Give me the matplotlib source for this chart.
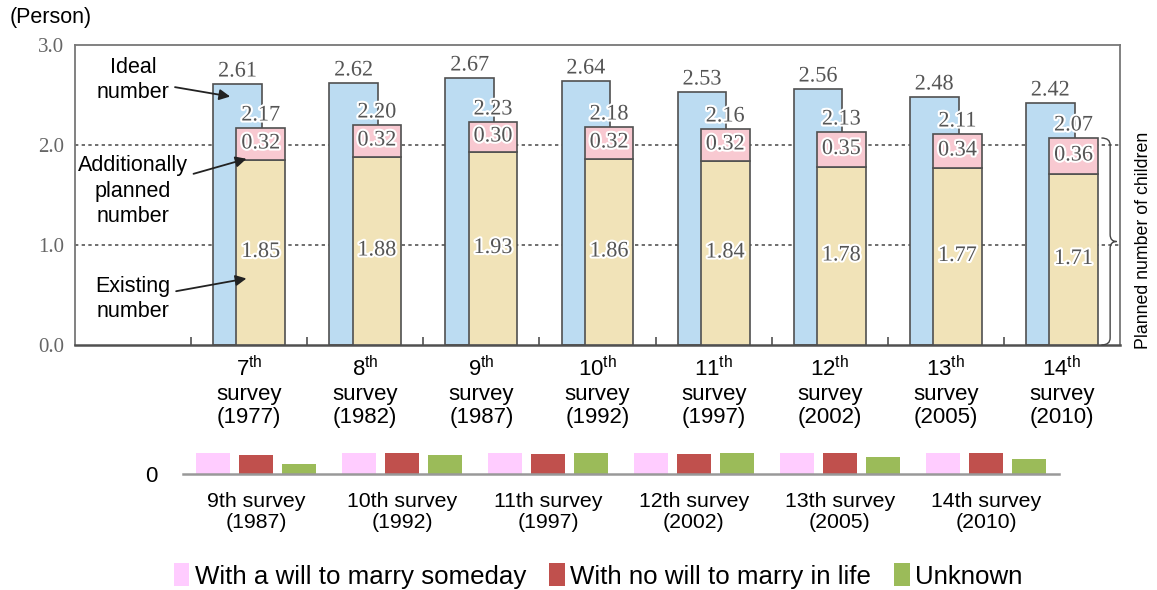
import numpy as np
import matplotlib.pyplot as plt
import matplotlib.patheffects as pe
from matplotlib.path import Path
from matplotlib.patches import PathPatch

plt.rcParams['font.family'] = ['Liberation Sans', 'DejaVu Sans']
plt.rcParams['mathtext.fontset'] = 'custom'
plt.rcParams['mathtext.rm'] = 'Liberation Sans'

# planned / ideal number of children by survey
surveys = ['7', '8', '9', '10', '11', '12', '13', '14']
years = ['1977', '1982', '1987', '1992', '1997', '2002', '2005', '2010']
ideal = [2.61, 2.62, 2.67, 2.64, 2.53, 2.56, 2.48, 2.42]
existing = [1.85, 1.88, 1.93, 1.86, 1.84, 1.78, 1.77, 1.71]
additional = [0.32, 0.32, 0.30, 0.32, 0.32, 0.35, 0.34, 0.36]
planned = [2.17, 2.20, 2.23, 2.18, 2.16, 2.13, 2.11, 2.07]

# lower panel: marriage intention groups
low_labels = ['9th survey\n(1987)', '10th survey\n(1992)', '11th survey\n(1997)',
              '12th survey\n(2002)', '13th survey\n(2005)', '14th survey\n(2010)']
will_marry = [2.1, 2.1, 2.1, 2.1, 2.1, 2.1]
no_will = [1.9, 2.1, 2.0, 2.0, 2.1, 2.1]
unknown = [1.0, 1.9, 2.1, 2.1, 1.7, 1.5]
legend_names = ['With a will to marry someday', 'With no will to marry in life', 'Unknown']

c_blue = '#bcdcf2'
c_tan = '#f1e3b8'
c_pink = '#f8c9d1'
edge = '#505050'
num_color = '#555555'
stroke = [pe.withStroke(linewidth=3, foreground='white')]

fig = plt.figure(figsize=(11.57, 5.9), dpi=100)
ax = fig.add_axes([75 / 1157, 1 - 345 / 590, 1045 / 1157, 300 / 590])

x = np.arange(1, len(surveys) + 1)
w = 0.42
off = 0.1
ax.bar(x - off, ideal, w, color=c_blue, edgecolor=edge, linewidth=1.2, zorder=2)
ax.bar(x + off, existing, w, color=c_tan, edgecolor=edge, linewidth=1.2, zorder=3)
ax.bar(x + off, additional, w, bottom=existing, color=c_pink, edgecolor=edge,
       linewidth=1.2, zorder=3)

serif = 'Liberation Serif'
nfs = 16
for i in range(len(x)):
    ax.text(x[i] - off, ideal[i] + 0.12, f'{ideal[i]:.2f}', ha='center', va='center',
            family=serif, fontsize=nfs, color=num_color, path_effects=stroke, zorder=5)
    ax.text(x[i] + off, planned[i] + 0.12, f'{planned[i]:.2f}', ha='center',
            va='center', family=serif, fontsize=nfs, color=num_color,
            path_effects=stroke, zorder=5)
    ax.text(x[i] + off, existing[i] + additional[i] / 2, f'{additional[i]:.2f}',
            ha='center', va='center', family=serif, fontsize=nfs, color=num_color,
            path_effects=stroke, zorder=5)
    ax.text(x[i] + off, existing[i] / 2, f'{existing[i]:.2f}', ha='center',
            va='center', family=serif, fontsize=nfs, color=num_color,
            path_effects=stroke, zorder=5)

ax.set_xlim(-0.5, 8.5)
ax.set_ylim(0, 3.0)
ax.set_yticks([0, 1, 2, 3])
ax.set_yticklabels(['0.0', '1.0', '2.0', '3.0'], family=serif, fontsize=15,
                   color='#666666')
ax.tick_params(axis='y', length=0, pad=8)
ax.set_xticks(x)
ax.set_xticklabels([f'$\\mathregular{{{s}^{{th}}}}$\nsurvey\n({y})'
                    for s, y in zip(surveys, years)], fontsize=16, linespacing=1.15)
ax.tick_params(axis='x', length=0, pad=8)
ax.set_xticks(np.arange(0.5, 8.5, 1.0), minor=True)
ax.tick_params(axis='x', which='minor', direction='in', length=6, width=1.2,
               color='#505050')
for y in [1.0, 2.0]:
    ax.axhline(y, color='#555555', linestyle=(0, (2, 2)), linewidth=1.2, zorder=1)
for s in ax.spines.values():
    s.set_color('#777777')
    s.set_linewidth(1.3)
ax.spines['bottom'].set_color('#505050')
ax.spines['bottom'].set_linewidth(1.8)

# callouts on the first survey
arrow = dict(arrowstyle='-|>', color='#222222', lw=1.3, mutation_scale=16)
ax.annotate('Ideal\nnumber', xy=(0.86, 2.48), xytext=(0.0, 2.65), ha='center',
            va='center', fontsize=15.5, linespacing=1.3, arrowprops=arrow, zorder=6)
ax.annotate('Additionally\nplanned\nnumber', xy=(1.0, 1.87), xytext=(0.0, 1.54),
            ha='center', va='center', fontsize=15.5, linespacing=1.3,
            arrowprops=arrow, zorder=6)
ax.annotate('Existing\nnumber', xy=(1.0, 0.67), xytext=(0.0, 0.46), ha='center',
            va='center', fontsize=15.5, linespacing=1.3, arrowprops=arrow, zorder=6)

# brace on the right marking the planned number
x0, xl, xt = 8.34, 8.415, 8.47
yt, yb = planned[-1], 0.0
ym = (yt + yb) / 2
r = 0.07
verts = [(x0, yt), (xl, yt), (xl, yt - r), (xl, ym + r), (xl, ym), (xt, ym),
         (xl, ym), (xl, ym - r), (xl, yb + r), (xl, yb), (x0, yb)]
codes = [Path.MOVETO, Path.CURVE3, Path.CURVE3, Path.LINETO, Path.CURVE3, Path.CURVE3,
         Path.CURVE3, Path.CURVE3, Path.LINETO, Path.CURVE3, Path.CURVE3]
ax.add_patch(PathPatch(Path(verts, codes), fill=False, edgecolor='#444444', lw=1.0,
                       zorder=4, clip_on=False))
fig.text(1143 / 1157, 1 - 240 / 590, 'Planned number of children', rotation=90,
         ha='center', va='center', fontsize=12.8)

fig.text(10 / 1157, 1 - 18 / 590, '(Person)', ha='left', va='center', fontsize=15.5)

# lower panel
ax2 = fig.add_axes([183 / 1157, 1 - 474 / 590, 876 / 1157, 29 / 590])
xl2 = np.arange(len(low_labels))
bw = 0.235
sp = 0.295
ax2.bar(xl2 - sp, will_marry, bw, color='#ffccff', label=legend_names[0])
ax2.bar(xl2, no_will, bw, color='#c0504d', label=legend_names[1])
ax2.bar(xl2 + sp, unknown, bw, color='#9bbb59', label=legend_names[2])
ax2.set_xlim(-0.5, len(low_labels) - 0.5)
ax2.set_ylim(0, 2.9)
ax2.set_yticks([0])
ax2.set_yticklabels(['0'], fontsize=16)
ax2.tick_params(axis='y', length=0, pad=18)
ax2.set_xticks(xl2)
ax2.set_xticklabels(low_labels, fontsize=15.3, linespacing=1.1)
ax2.tick_params(axis='x', length=0, pad=13)
for k in ['top', 'left', 'right']:
    ax2.spines[k].set_visible(False)
ax2.spines['bottom'].set_color('#999999')
ax2.spines['bottom'].set_linewidth(1.8)

fig.legend(*ax2.get_legend_handles_labels(), loc='center', ncol=3,
           bbox_to_anchor=(598 / 1157, 1 - 576 / 590), frameon=False, fontsize=18.6,
           handlelength=0.6, handleheight=1.0, handletextpad=0.2, columnspacing=0.9,
           borderpad=0)

fig.savefig('out.png', dpi=100)
